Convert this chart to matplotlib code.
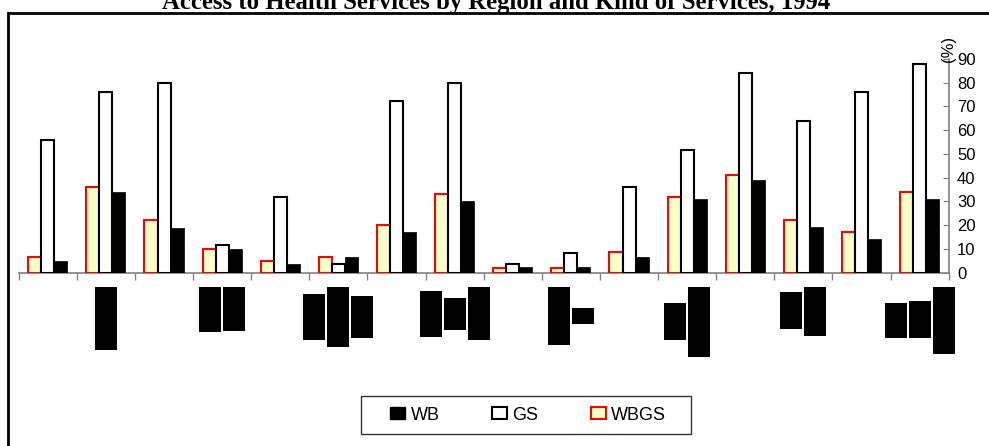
import matplotlib
matplotlib.use("Agg")
import matplotlib.pyplot as plt
from matplotlib.patches import Rectangle, Patch
import numpy as np

# Access rates (%) for each of the 16 regions
wb = [5, 34, 19, 10, 3.5, 6.5, 17, 30, 2.2, 2.2, 6.5, 31, 39, 19.3, 14, 31]
gs = [56, 76, 80, 11.5, 32, 3.5, 72.5, 80, 3.8, 8.2, 36, 51.7, 84, 64, 76, 88]
wbgs = [6.5, 36, 22, 10, 5, 6.5, 20, 33, 2, 2, 8.7, 31.8, 41.3, 22, 17, 34]
y_ticks = [0, 10, 20, 30, 40, 50, 60, 70, 80, 90]

# Region labels appear as solid black column blocks under every second region:
# each entry lists the (top, bottom) extent of one column in value units.
label_blocks = {
    1: [(-6.0, -32.6)],
    3: [(-6.0, -25.1), (-6.0, -24.6)],
    5: [(-9.0, -28.3), (-6.0, -31.2), (-9.8, -27.6)],
    7: [(-7.7, -27.0), (-10.7, -24.1), (-6.0, -28.3)],
    9: [(-6.0, -30.6), (-14.9, -21.5)],
    11: [(-12.8, -28.3), (-6.0, -35.5)],
    13: [(-8.1, -23.7), (-6.0, -26.7)],
    15: [(-12.8, -27.6), (-11.9, -27.5), (-6.0, -34.2)],
}

W, H = 989, 446
fig = plt.figure(figsize=(W / 100, H / 100), dpi=100)
ax = fig.add_axes([18.7 / W, (H - 272.7) / H, 930 / W, 213.7 / H])

n = len(gs)
x = np.arange(n)
bw = 0.224
yellow = "#FFFFC8"

ax.bar(x - bw, wbgs, bw, color=yellow, edgecolor="#FF0000", linewidth=1.5, zorder=3)
ax.bar(x, gs, bw, color="white", edgecolor="black", linewidth=1.5, zorder=3)
ax.bar(x + bw, wb, bw, color="black", edgecolor="black", linewidth=0.5, zorder=3)

ax.set_xlim(-0.5, n - 0.5)
ax.set_ylim(0, 90)

for s in ("left", "top"):
    ax.spines[s].set_visible(False)
for s in ("right", "bottom"):
    ax.spines[s].set_color("#808080")
    ax.spines[s].set_linewidth(1.2)

ax.yaxis.tick_right()
ax.set_yticks(y_ticks)
ax.tick_params(axis="y", direction="in", length=4, color="#808080", pad=6,
               labelsize=12, labelcolor="black")
for lbl in ax.get_yticklabels():
    lbl.set_fontfamily("Liberation Sans")

ax.set_xticks(np.arange(-0.5, n, 1.0))
ax.set_xticklabels([])
ax.tick_params(axis="x", direction="out", length=5, color="#808080", width=1)

# label column blocks
cw, gap = 22 / 58, 2 / 58
for i, cols in label_blocks.items():
    k = len(cols)
    total = k * cw + (k - 1) * gap
    x0 = i - total / 2
    for j, (top, bot) in enumerate(cols):
        r = Rectangle((x0 + j * (cw + gap), bot), cw, top - bot,
                      facecolor="black", edgecolor="none", clip_on=False, zorder=3)
        ax.add_patch(r)

# axis unit
ax.text(1.0, (272.7 - 49) / 213.7, "(%)", transform=ax.transAxes,
        rotation=90, ha="center", va="center", fontsize=12,
        family="Liberation Sans")

# legend (frame drawn separately)
handles = [
    Patch(facecolor="black", edgecolor="black", label="WB"),
    Patch(facecolor="white", edgecolor="black", linewidth=1.5, label="GS"),
    Patch(facecolor=yellow, edgecolor="#FF0000", linewidth=1.5, label="WBGS"),
]
fig.legend(handles=handles, loc="center",
           bbox_to_anchor=(528 / W, 1 - 415 / H),
           ncol=3, frameon=False,
           handlelength=0.83, handleheight=0.67, handletextpad=0.3,
           columnspacing=2.9, prop={"family": "Liberation Sans", "size": 13})
fig.add_artist(Rectangle((360.7 / W, 1 - 434.3 / H), 330.6 / W, 38.6 / H,
                         transform=fig.transFigure, fill=False,
                         edgecolor="#333333", linewidth=1.0))

# outer chart frame
fig.add_artist(Rectangle((8 / W, -0.2), 1.2, (H - 13) / H + 0.2,
                         transform=fig.transFigure, fill=False,
                         edgecolor="black", linewidth=2.0))

fig.text(496 / W, 1 - 9 / H,
         "Access to Health Services by Region and Kind of Services, 1994",
         ha="center", va="baseline", fontweight="bold", fontsize=17.8,
         family="Liberation Serif")

fig.savefig("out.png", dpi=100)
